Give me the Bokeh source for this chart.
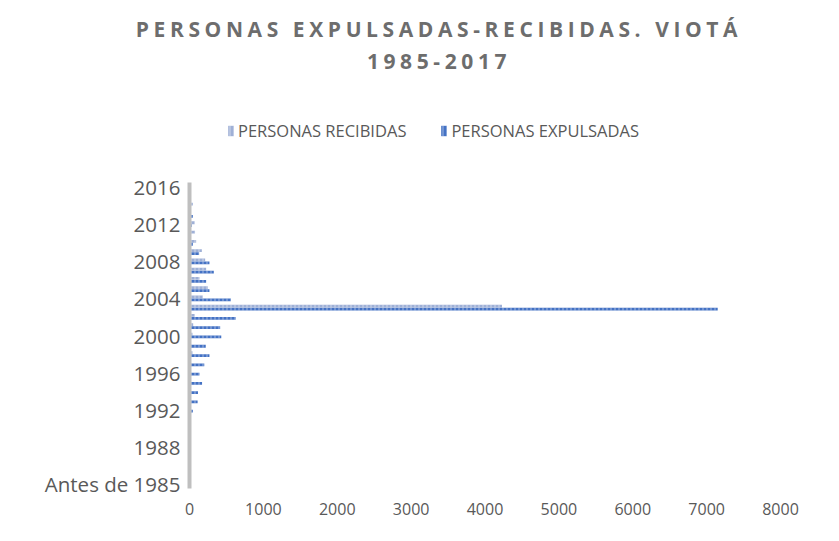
from bokeh.plotting import figure
from bokeh.models import (ColumnDataSource, Range1d, FixedTicker, Legend, LegendItem, Div)
from bokeh.layouts import column
from bokeh.transform import dodge
from bokeh.embed import file_html
from bokeh.resources import INLINE

# ---- data ----
categories = ["Antes de 1985"] + [str(y) for y in range(1985, 2017)]
recibidas = [0, 0, 0, 0, 0, 0, 0, 0, 0, 0, 0,
             15, 0, 0, 40, 15, 40, 50, 70, 4230, 180,
             248, 135, 225, 212, 167, 90, 75, 70, 10, 45, 5, 10]
expulsadas = [0, 0, 0, 0, 0, 0, 0, 10, 45, 110, 115,
              170, 135, 200, 270, 220, 430, 415, 625, 7150, 560,
              270, 225, 329, 270, 130, 45, 15, 30, 45, 10, 20, 15]
x_ticks = [0, 1000, 2000, 3000, 4000, 5000, 6000, 7000, 8000]
y_tick_idx = list(range(0, len(categories), 4))

src = ColumnDataSource(dict(idx=list(range(len(categories))), cat=categories,
                            rec=recibidas, exp=expulsadas))

FONT = "Open Sans"
GRAY = "#595959"

n = len(categories)
cat_px = 306.0 / n          # pixels per category in the bar area
extra_px = 62.0             # frame extends above the bars to host the legend
y_end = n - 0.5 + extra_px / cat_px

title = Div(text="PERSONAS EXPULSADAS-RECIBIDAS. VIOTÁ<br>1985-2017",
            width=830, height=72,
            styles={"font-family": FONT, "font-weight": "bold", "font-size": "21px",
                    "letter-spacing": "4.6px", "color": "#6d6d6d", "text-align": "center",
                    "line-height": "32px", "padding-top": "8px", "padding-left": "38px",
                    "box-sizing": "border-box"})

p = figure(width=830, height=453, output_backend="svg", toolbar_location=None,
           x_range=Range1d(0, 8000), y_range=Range1d(-0.5, y_end),
           min_border_left=189, min_border_right=50, min_border_top=38, min_border_bottom=47)
p.outline_line_color = None
p.xgrid.visible = False
p.ygrid.visible = False

r_rec = p.hbar(y=dodge("idx", 0.16), right="rec", left=0, height=0.3, source=src,
               fill_color="#9fb0d6", line_color=None,
               hatch_pattern="vertical_line", hatch_color="white", hatch_alpha=0.5,
               hatch_scale=4, hatch_weight=1)
r_exp = p.hbar(y=dodge("idx", -0.16), right="exp", left=0, height=0.3, source=src,
               fill_color="#4472c4", line_color=None,
               hatch_pattern="vertical_line", hatch_color="white", hatch_alpha=0.5,
               hatch_scale=4, hatch_weight=1)

# x axis
p.xaxis.ticker = FixedTicker(ticks=x_ticks)
p.xaxis.axis_line_color = None
p.xaxis.major_tick_line_color = None
p.xaxis.minor_tick_line_color = None
p.xaxis.major_label_standoff = 8
p.xaxis.major_label_text_font = FONT
p.xaxis.major_label_text_font_size = "16px"
p.xaxis.major_label_text_color = GRAY

# y axis
p.yaxis.ticker = FixedTicker(ticks=y_tick_idx)
p.yaxis.bounds = (-0.5, n - 0.5)
p.yaxis.major_label_overrides = {i: categories[i] for i in y_tick_idx}
p.yaxis.axis_line_color = "#bfbfbf"
p.yaxis.axis_line_width = 4
p.yaxis.major_tick_line_color = None
p.yaxis.minor_tick_line_color = None
p.yaxis.major_label_standoff = 3
p.yaxis.major_label_text_font = FONT
p.yaxis.major_label_text_font_size = "20.5px"
p.yaxis.major_label_text_color = GRAY

legend = Legend(items=[LegendItem(label="PERSONAS RECIBIDAS", renderers=[r_rec]),
                       LegendItem(label="PERSONAS EXPULSADAS", renderers=[r_exp])],
                orientation="horizontal", location=(38, 306 + extra_px - 22),
                padding=0, margin=0, spacing=34, glyph_width=7, glyph_height=13,
                label_standoff=4, label_height=16,
                border_line_color=None, background_fill_alpha=0,
                label_text_font=FONT, label_text_font_size="16.5px",
                label_text_color=GRAY)
p.add_layout(legend, "center")

layout = column(title, p)

open("out.html", "w").write(file_html(layout, INLINE))
